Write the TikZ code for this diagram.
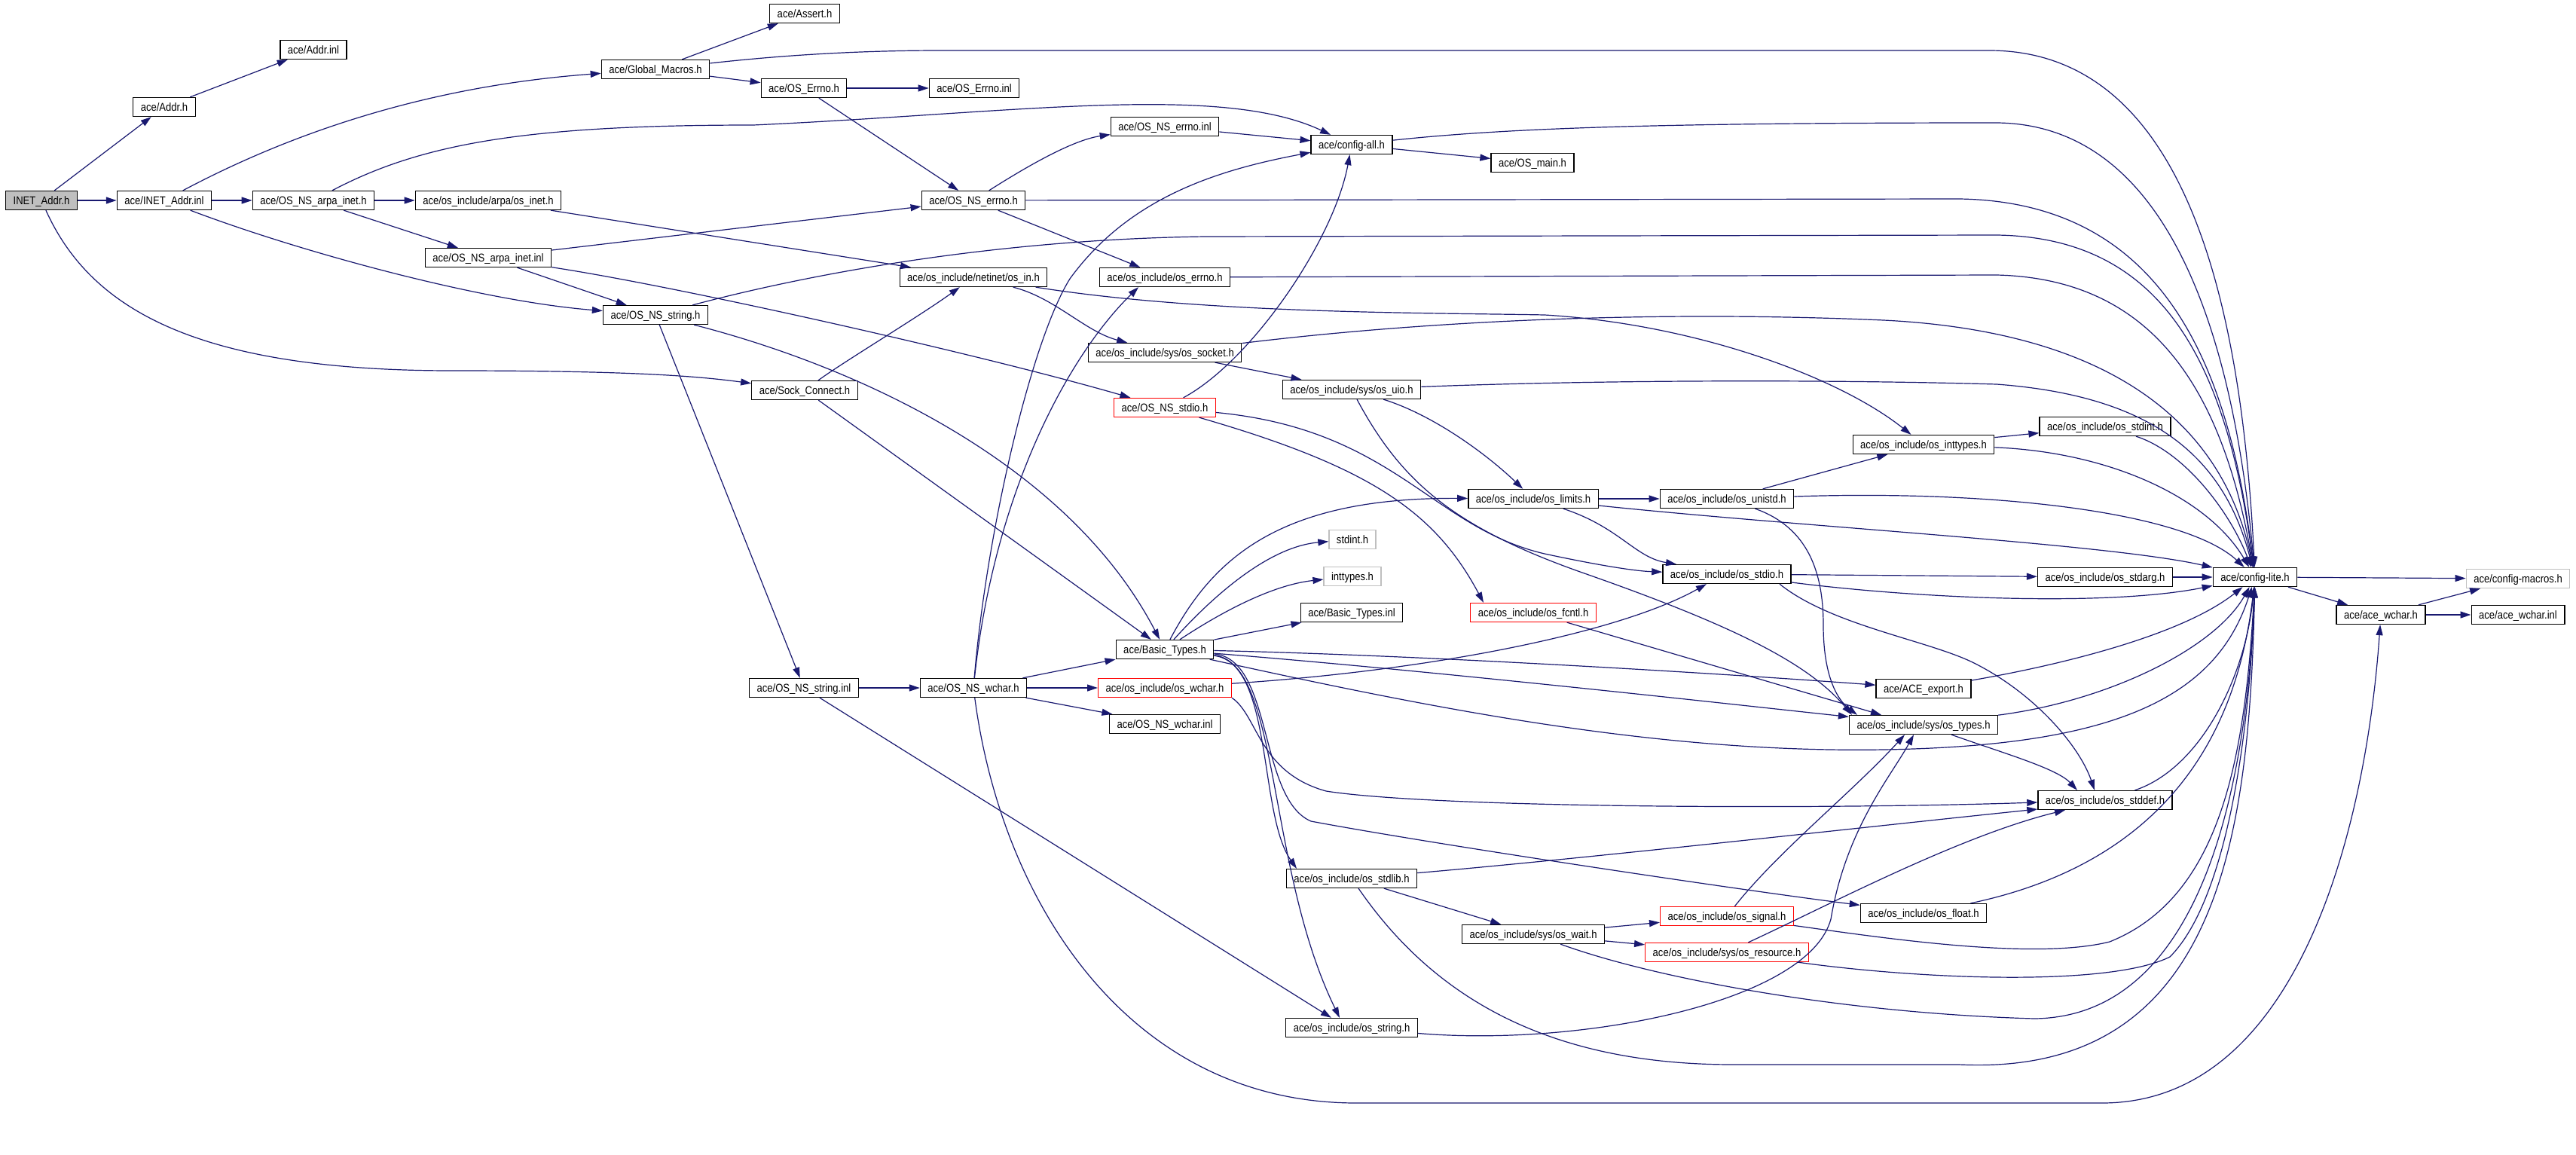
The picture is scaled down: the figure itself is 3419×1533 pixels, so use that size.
\documentclass[tikz,border=0pt]{standalone}
\usepackage{fontspec}
\setmainfont{Liberation Sans}[FakeStretch=0.87]
\usetikzlibrary{arrows.meta}
\definecolor{edgeblue}{RGB}{25,25,112}
\definecolor{truncred}{RGB}{255,0,0}
\definecolor{extgray}{RGB}{191,191,191}
\tikzset{hdr/.style= {draw=black, fill=white, line width=1.3pt, inner xsep=10pt, inner ysep=0pt, minimum height=25pt, text height=11pt, text depth=0pt, font=\fontsize{15}{18}\selectfont}}
\tikzset{hdrred/.style= {hdr, draw=truncred}}
\tikzset{hdrgray/.style= {hdr, draw=extgray}}
\tikzset{hdrroot/.style= {hdr, fill=extgray}}
\tikzset{incl/.style= {-{Triangle[length=14pt,width=9pt]}, draw=edgeblue, line width=1.2pt}}

\begin{document}
\begin{tikzpicture}[x=1pt, y=-1pt]
        \fill[white](0,0)rectangle(3419,1533);
        \useasboundingbox(0,0)rectangle(3419,1533);

        \node[hdrroot](inet)at(55,266){INET\_Addr.h};
        \node[hdr](addrh)at(218,142){ace/Addr.h};
        \node[hdr](addrinl)at(416,66){ace/Addr.inl};
        \node[hdr](inetinl)at(218,266){ace/INET\_Addr.inl};
        \node[hdr](arpah)at(416,266){ace/OS\_NS\_arpa\_inet.h};
        \node[hdr](osinet)at(648,266){ace/os\_include/arpa/os\_inet.h};
        \node[hdr](arpainl)at(648,342){ace/OS\_NS\_arpa\_inet.inl};
        \node[hdr](globmac)at(870,92){ace/Global\_Macros.h};
        \node[hdr](nsstr)at(870,418){ace/OS\_NS\_string.h};
        \node[hdr](assert)at(1068,18){ace/Assert.h};
        \node[hdr](oserrh)at(1067,117){ace/OS\_Errno.h};
        \node[hdr](sock)at(1068,518){ace/Sock\_Connect.h};
        \node[hdr](nsstrinl)at(1067,913){ace/OS\_NS\_string.inl};
        \node[hdr](oserrinl)at(1293,117){ace/OS\_Errno.inl};
        \node[hdr](nserrh)at(1292,266){ace/OS\_NS\_errno.h};
        \node[hdr](osin)at(1292,368){ace/os\_include/netinet/os\_in.h};
        \node[hdr](nswchar)at(1292,913){ace/OS\_NS\_wchar.h};
        \node[hdr](nserrinl)at(1546,168){ace/OS\_NS\_errno.inl};
        \node[hdr](oserrno)at(1546,368){ace/os\_include/os\_errno.h};
        \node[hdr](ossocket)at(1546,468){ace/os\_include/sys/os\_socket.h};
        \node[hdrred](nsstdio)at(1546,541){ace/OS\_NS\_stdio.h};
        \node[hdr](bth)at(1546,862){ace/Basic\_Types.h};
        \node[hdrred](oswchar)at(1546,913){ace/os\_include/os\_wchar.h};
        \node[hdr](nswcharinl)at(1546,961){ace/OS\_NS\_wchar.inl};
        \node[hdr](cfgall)at(1794,192){ace/config-all.h};
        \node[hdr](osuio)at(1794,517){ace/os\_include/sys/os\_uio.h};
        \node[hdrgray](stdint)at(1795,716){stdint.h};
        \node[hdrgray](inttypes)at(1795,765){inttypes.h};
        \node[hdr](btinl)at(1794,813){ace/Basic\_Types.inl};
        \node[hdr](osstdlib)at(1794,1166){ace/os\_include/os\_stdlib.h};
        \node[hdr](osstring)at(1794,1364){ace/os\_include/os\_string.h};
        \node[hdr](osmain)at(2034,216){ace/OS\_main.h};
        \node[hdr](oslimits)at(2035,662){ace/os\_include/os\_limits.h};
        \node[hdrred](osfcntl)at(2035,813){ace/os\_include/os\_fcntl.h};
        \node[hdr](oswait)at(2035,1240){ace/os\_include/sys/os\_wait.h};
        \node[hdr](osunistd)at(2292,662){ace/os\_include/os\_unistd.h};
        \node[hdr](osstdio)at(2292,762){ace/os\_include/os\_stdio.h};
        \node[hdrred](ossignal)at(2292,1216){ace/os\_include/os\_signal.h};
        \node[hdrred](osresource)at(2292,1264){ace/os\_include/sys/os\_resource.h};
        \node[hdr](osinttypes)at(2553,590){ace/os\_include/os\_inttypes.h};
        \node[hdr](aceexport)at(2553,914){ace/ACE\_export.h};
        \node[hdr](ostypes)at(2553,962){ace/os\_include/sys/os\_types.h};
        \node[hdr](osfloat)at(2553,1212){ace/os\_include/os\_float.h};
        \node[hdr](osstdint)at(2794,566){ace/os\_include/os\_stdint.h};
        \node[hdr](osstdarg)at(2794,766){ace/os\_include/os\_stdarg.h};
        \node[hdr](osstddef)at(2794,1062){ace/os\_include/os\_stddef.h};
        \node[hdr](cfglite)at(2993,766){ace/config-lite.h};
        \node[hdr](acewchar)at(3160,816){ace/ace\_wchar.h};
        \node[hdrgray](cfgmac)at(3342,768){ace/config-macros.h};
        \node[hdr](acewcharinl)at(3342,816){ace/ace\_wchar.inl};

        \draw[incl](inet)--(addrh);
        \draw[incl](addrh)--(addrinl);
        \draw[incl](inet)--(inetinl);
        \draw[incl](inet)..controls(120,410)and(260,492)..(600,492)..controls(850,492)and(930,500)..(sock);
        \draw[incl](inetinl)..controls(380,180)and(560,115)..(globmac);
        \draw[incl](inetinl)--(arpah);
        \draw[incl](inetinl)..controls(400,335)and(640,400)..(nsstr);
        \draw[incl](arpah)--(osinet);
        \draw[incl](arpah)--(arpainl);
        \draw[incl](arpah)..controls(560,190)and(700,166)..(1000,166)..controls(1350,150)and(1620,110)..(cfgall);
        \draw[incl](osinet)--(osin);
        \draw[incl](arpainl)--(nserrh);
        \draw[incl](arpainl)..controls(900,380)and(1300,470)..(nsstdio);
        \draw[incl](arpainl)--(nsstr);
        \draw[incl](globmac)--(assert);
        \draw[incl](globmac)--(oserrh);
        \draw[incl](globmac)..controls(1050,72)and(1150,67)..(1250,67)--(2640,67)..controls(2900,67)and(2975,400)..(cfglite);
        \draw[incl](oserrh)--(oserrinl);
        \draw[incl](oserrh)--(nserrh);
        \draw[incl](nserrh)..controls(1380,210)and(1430,185)..(nserrinl);
        \draw[incl](nserrh)--(2600,264)..controls(2880,268)and(2960,500)..(cfglite);
        \draw[incl](nserrh)--(oserrno);
        \draw[incl](nserrinl)--(cfgall);
        \draw[incl](cfgall)--(osmain);
        \draw[incl](cfgall)..controls(2000,170)and(2200,163)..(2650,163)..controls(2880,165)and(2965,450)..(cfglite);
        \draw[incl](oserrno)--(2650,365)..controls(2860,370)and(2950,520)..(cfglite);
        \draw[incl](nsstr)..controls(1050,370)and(1300,318)..(1600,314)--(2650,312)..controls(2870,315)and(2955,480)..(cfglite);
        \draw[incl](osin)..controls(1400,395)and(1440,440)..(ossocket);
        \draw[incl](osin)..controls(1600,417)and(1900,415)..(2050,418)..controls(2250,430)and(2440,500)..(osinttypes);
        \draw[incl](ossocket)--(osuio);
        \draw[incl](ossocket)..controls(1900,425)and(2200,412)..(2500,425)..controls(2800,440)and(2950,560)..(cfglite);
        \draw[incl](sock)..controls(1120,480)and(1220,420)..(osin);
        \draw[incl](sock)--(bth);
        \draw[incl](nsstr)--(nsstrinl);
        \draw[incl](nsstr)..controls(1150,490)and(1420,620)..(bth);
        \draw[incl](nsstdio)..controls(1660,480)and(1770,320)..(cfgall);
        \draw[incl](nsstdio)..controls(1850,570)and(1900,700)..(2050,735)..controls(2120,750)and(2170,758)..(osstdio);
        \draw[incl](nsstdio)..controls(1820,620)and(1905,680)..([xshift=-66pt]osfcntl.north);
        \draw[incl](osuio)..controls(2100,505)and(2400,503)..(2650,510)..controls(2850,525)and(2950,600)..(cfglite);
        \draw[incl](osuio)..controls(1900,550)and(1970,600)..(oslimits);
        \draw[incl](osuio)..controls(1860,640)and(1930,700)..(2100,760)..controls(2300,830)and(2400,880)..([xshift=-95pt]ostypes.north);
        \draw[incl](osinttypes)--(osstdint);
        \draw[incl](osinttypes)..controls(2800,600)and(2930,660)..(cfglite);
        \draw[incl](osstdint)..controls(2900,600)and(2960,680)..(cfglite);
        \draw[incl](oslimits)--(osunistd);
        \draw[incl](oslimits)..controls(2150,700)and(2170,740)..([xshift=-67pt]osstdio.north);
        \draw[incl](oslimits)..controls(2400,700)and(2800,722)..(cfglite);
        \draw[incl](osunistd)--(osinttypes);
        \draw[incl](osunistd)..controls(2650,650)and(2900,680)..(cfglite);
        \draw[incl](osunistd)..controls(2400,700)and(2420,760)..(2420,830)..controls(2420,900)and(2440,930)..([xshift=-88pt]ostypes.north);
        \draw[incl](osfcntl)--([xshift=-56pt]ostypes.north);
        \draw[incl](osstdio)--(osstdarg);
        \draw[incl](osstdio)..controls(2550,795)and(2800,805)..(cfglite);
        \draw[incl]([xshift=70pt]osstdio.south)..controls(2430,830)and(2560,850)..(2620,880)..controls(2700,920)and(2760,990)..([xshift=-14pt]osstddef.north);
        \draw[incl](osstdarg)--(cfglite);
        \draw[incl](cfglite)--(cfgmac);
        \draw[incl](cfglite)--(acewchar);
        \draw[incl](acewchar)--(cfgmac);
        \draw[incl](acewchar)--(acewcharinl);
        \draw[incl](bth)..controls(1610,740)and(1700,660)..(oslimits);
        \draw[incl](bth)..controls(1620,780)and(1690,725)..(stdint);
        \draw[incl](bth)..controls(1640,800)and(1700,775)..(inttypes);
        \draw[incl](bth)--(btinl);
        \draw[incl](bth)..controls(1900,870)and(2300,895)..(aceexport);
        \draw[incl](bth)..controls(1900,890)and(2300,935)..(ostypes);
        \draw[incl](bth)..controls(1900,940)and(2200,1000)..(2500,995)..controls(2800,990)and(2940,930)..(cfglite);
        \draw[incl](bth)..controls(1690,875)and(1670,1060)..(1740,1090)..controls(1900,1120)and(2300,1180)..(osfloat);
        \draw[incl](bth)..controls(1690,880)and(1670,1080)..([xshift=-73pt]osstdlib.north);
        \draw[incl](bth)..controls(1700,880)and(1680,1150)..([xshift=-16pt]osstring.north);
        \draw[incl](oswchar)..controls(1900,890)and(2150,840)..([xshift=-27pt]osstdio.south);
        \draw[incl](oswchar.south east)..controls(1670,950)and(1670,1025)..(1760,1050)..controls(1900,1072)and(2400,1075)..(osstddef);
        \draw[incl](nsstrinl)--(nswchar);
        \draw[incl](nsstrinl)--([xshift=-27pt]osstring.north);
        \draw[incl](nswchar)--(bth);
        \draw[incl](nswchar)--(oswchar);
        \draw[incl](nswchar)--(nswcharinl);
        \draw[incl](nswchar)..controls(1310,700)and(1370,450)..(1420,370)..controls(1500,260)and(1620,225)..(cfgall);
        \draw[incl](nswchar)..controls(1320,650)and(1420,470)..([xshift=-35pt]oserrno.south);
        \draw[incl](nswchar)..controls(1330,1200)and(1500,1464)..(1800,1464)--(2790,1464)..controls(3050,1464)and(3140,1100)..(acewchar);
        \draw[incl](aceexport)..controls(2750,880)and(2900,840)..(cfglite);
        \draw[incl](ostypes)..controls(2800,930)and(2940,860)..(cfglite);
        \draw[incl](ostypes)..controls(2660,1000)and(2730,1020)..([xshift=-37pt]osstddef.north);
        \draw[incl](osstddef)..controls(2920,1020)and(2980,900)..(cfglite);
        \draw[incl](osstdlib)..controls(2100,1140)and(2500,1095)..([yshift=-12pt]osstddef.west);
        \draw[incl](osstdlib)--(oswait);
        \draw[incl](osstdlib)..controls(1900,1320)and(2050,1413)..(2300,1413)--(2600,1413)..controls(2950,1430)and(2985,1100)..(cfglite);
        \draw[incl](oswait)--(ossignal);
        \draw[incl](oswait)--(osresource);
        \draw[incl](oswait)..controls(2200,1300)and(2450,1345)..(2700,1352)..controls(2900,1350)and(2980,1100)..(cfglite);
        \draw[incl](ossignal)..controls(2360,1130)and(2460,1050)..([xshift=-25pt]ostypes.south);
        \draw[incl](ossignal)..controls(2500,1245)and(2700,1275)..(2800,1250)..controls(2950,1190)and(2980,1000)..(cfglite);
        \draw[incl](osresource)..controls(2430,1200)and(2600,1110)..([xshift=-53pt]osstddef.south);
        \draw[incl](osresource)..controls(2550,1300)and(2800,1310)..(2880,1270)..controls(2950,1200)and(2985,1000)..(cfglite);
        \draw[incl](osfloat)..controls(2800,1160)and(2960,1050)..(cfglite);
        \draw[incl](osstring)..controls(2100,1390)and(2400,1330)..(2430,1220)..controls(2450,1100)and(2510,1030)..([xshift=-13pt]ostypes.south);
\end{tikzpicture}
\end{document}
